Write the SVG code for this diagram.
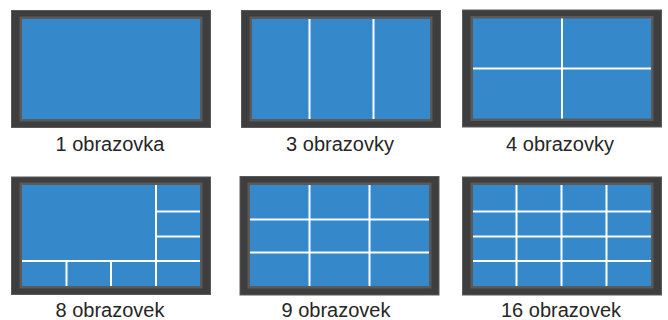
<svg xmlns="http://www.w3.org/2000/svg" width="668" height="320" viewBox="0 0 668 320">
<style>
.frame{fill:#3e3e3e;stroke:#5a5a5a;stroke-width:1}
.ring{fill:#5a5a5a}
.screen{fill:#3589cb}
.div{stroke:#ffffff;stroke-width:2;fill:none}
.lbl{font-family:"Liberation Sans",Arial,sans-serif;font-size:20px;fill:#262626;text-anchor:middle}
</style>
<rect width="668" height="320" fill="#ffffff"/>
<g id="panel1">
<rect class="frame" x="11.5" y="10.5" width="199" height="117"/>
<rect class="ring" x="19.5" y="16.5" width="183" height="105"/>
<rect class="screen" x="22" y="19" width="178" height="100"/>
<text class="lbl" x="110" y="150.5">1 obrazovka</text>
</g>
<g id="panel3">
<rect class="frame" x="241.5" y="10.5" width="199" height="117"/>
<rect class="ring" x="249.5" y="16.5" width="183" height="105"/>
<rect class="screen" x="252" y="19" width="178" height="100"/>
<path class="div" d="M309.5 19V119M373.5 19V119"/>
<text class="lbl" x="340" y="150.5">3 obrazovky</text>
</g>
<g id="panel4">
<rect class="frame" x="462.5" y="10" width="199" height="117"/>
<rect class="ring" x="470.5" y="16" width="183" height="105"/>
<rect class="screen" x="473" y="18.5" width="178" height="100"/>
<path class="div" d="M562 18.5V118.5M473 68.5H651"/>
<text class="lbl" x="560" y="150.5">4 obrazovky</text>
</g>
<g id="panel8">
<rect class="frame" x="11.5" y="177" width="199" height="117.5"/>
<rect class="ring" x="19.5" y="182.5" width="183" height="106"/>
<rect class="screen" x="22" y="185" width="178" height="101"/>
<path class="div" d="M156 185V286M22 261H200M156 211.5H200M156 236.5H200M66.5 261V286M111 261V286"/>
<text class="lbl" x="110" y="317">8 obrazovek</text>
</g>
<g id="panel9">
<rect class="frame" x="240" y="176.5" width="199" height="118.5"/>
<rect class="ring" x="247.5" y="182.5" width="184" height="106"/>
<rect class="screen" x="250" y="185" width="179" height="101"/>
<path class="div" d="M309.5 185V286M369.5 185V286M250 219.5H429M250 252.5H429"/>
<text class="lbl" x="336" y="317">9 obrazovek</text>
</g>
<g id="panel16">
<rect class="frame" x="462.5" y="177" width="199" height="118"/>
<rect class="ring" x="470.5" y="182.5" width="183" height="106"/>
<rect class="screen" x="473" y="185" width="178" height="101"/>
<path class="div" d="M516.5 185V286M561.5 185V286M606.5 185V286M473 211.5H651M473 236.5H651M473 261H651"/>
<text class="lbl" x="561" y="317">16 obrazovek</text>
</g>
</svg>
